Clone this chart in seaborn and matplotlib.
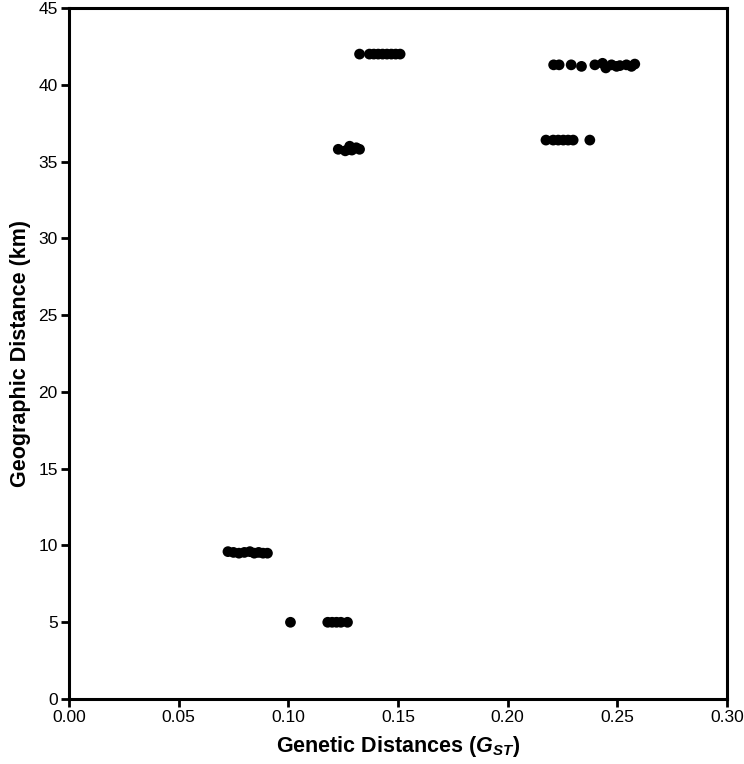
import pandas as pd
import matplotlib.pyplot as plt
import seaborn as sns

# pairwise genetic distance (GST) vs geographic distance (km)
gst = [0.0725, 0.075, 0.0775, 0.080, 0.0825, 0.0845, 0.0865, 0.0885, 0.0905,
       0.101, 0.118, 0.120, 0.122, 0.124, 0.127,
       0.1228, 0.126, 0.1275, 0.128, 0.129, 0.131, 0.1325,
       0.1325, 0.137, 0.139, 0.141, 0.143, 0.145, 0.147, 0.149, 0.151,
       0.2175, 0.2208, 0.2231, 0.2254, 0.2276, 0.2299, 0.2375,
       0.221, 0.2235, 0.229, 0.2337, 0.2398, 0.2433, 0.2448, 0.2474, 0.2497,
       0.2512, 0.2542, 0.2565, 0.258]
geo = [9.6, 9.55, 9.5, 9.55, 9.6, 9.5, 9.55, 9.5, 9.5,
       5.0, 5.0, 5.0, 5.0, 5.0, 5.0,
       35.8, 35.7, 35.8, 36.0, 35.75, 35.9, 35.8,
       42.0, 42.0, 42.0, 42.0, 42.0, 42.0, 42.0, 42.0, 42.0,
       36.4, 36.4, 36.4, 36.4, 36.4, 36.4, 36.4,
       41.3, 41.3, 41.3, 41.2, 41.3, 41.4, 41.1, 41.3, 41.2,
       41.25, 41.3, 41.2, 41.35]

df = pd.DataFrame({'gst': gst, 'geo': geo})

sns.set_style('ticks')
plt.rcParams['font.family'] = ['Liberation Sans', 'DejaVu Sans']
plt.rcParams['text.color'] = 'black'
plt.rcParams['axes.labelcolor'] = 'black'
plt.rcParams['mathtext.fontset'] = 'custom'
plt.rcParams['mathtext.it'] = 'Liberation Sans:italic:bold'
plt.rcParams['mathtext.rm'] = 'Liberation Sans:bold'

fig = plt.figure(figsize=(7.44, 7.64), dpi=100)
ax = fig.add_axes([0.0927, 0.085, 0.8843, 0.9045])
sns.scatterplot(x='gst', y='geo', data=df, color='black', s=60, edgecolor='none', ax=ax)

ax.set_xlim(0, 0.30)
ax.set_ylim(0, 45)
ax.set_xticks([0, 0.05, 0.10, 0.15, 0.20, 0.25, 0.30])
ax.set_xticklabels(['0.00', '0.05', '0.10', '0.15', '0.20', '0.25', '0.30'])
ax.set_yticks(range(0, 46, 5))
for s in ax.spines.values():
    s.set_linewidth(2.2)
    s.set_color('black')
ax.tick_params(width=2, length=6, labelsize=12.5, colors='black', labelcolor='black', pad=2)
ax.set_xlabel(r'Genetic Distances ($G_{ST}$)', fontsize=15.5, fontweight='bold', labelpad=6, color='black')
ax.set_ylabel('Geographic Distance (km)', fontsize=15.5, fontweight='bold', labelpad=5, color='black')

fig.savefig('out.png', dpi=100)
